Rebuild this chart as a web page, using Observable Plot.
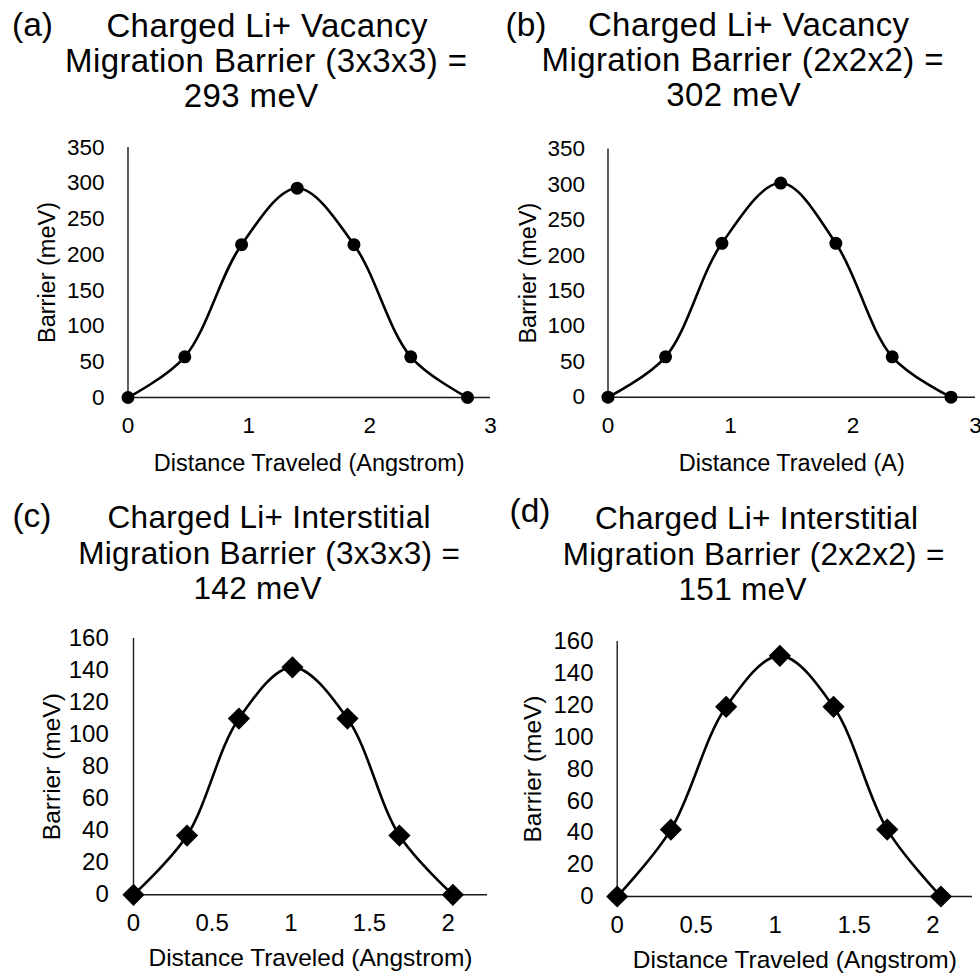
<!DOCTYPE html>
<html><head><meta charset="utf-8">
<script src="https://cdn.jsdelivr.net/npm/d3@7"></script>
<script src="https://cdn.jsdelivr.net/npm/@observablehq/plot@0.6"></script>
<style>
body{margin:0;background:#fff;}
#root{position:relative;width:980px;height:975px;overflow:hidden;font-family:"Liberation Sans",Arial,Helvetica,sans-serif;color:#000;}
.t{position:absolute;white-space:nowrap;line-height:1;}
.p{position:absolute;}
</style></head><body><div id="root"></div>
<script>
// ---- data ----
const distA = [0, 0.47, 0.94, 1.40, 1.87, 2.34, 2.81];
const barrierA = [0, 57, 214, 293, 214, 57, 0];
const distB = [0, 0.47, 0.93, 1.41, 1.86, 2.32, 2.80];
const barrierB = [0, 57, 217, 302, 217, 57, 0];
const distC = [0, 0.34, 0.67, 1.01, 1.36, 1.69, 2.03];
const barrierC = [0, 37, 110, 142, 110, 37, 0];
const distD = [0, 0.34, 0.69, 1.03, 1.37, 1.71, 2.05];
const barrierD = [0, 42, 119, 151, 119, 42, 0];

const xTicksVac = [0, 1, 2, 3];
const yTicksVac = [0, 50, 100, 150, 200, 250, 300, 350];
const xTicksInt = [0, 0.5, 1, 1.5, 2];
const yTicksInt = [0, 20, 40, 60, 80, 100, 120, 140, 160];

const titlesA = ["Charged Li+ Vacancy", "Migration Barrier (3x3x3) =", "293 meV"];
const titlesB = ["Charged Li+ Vacancy", "Migration Barrier (2x2x2) =", "302 meV"];
const titlesC = ["Charged Li+ Interstitial", "Migration Barrier (3x3x3) =", "142 meV"];
const titlesD = ["Charged Li+ Interstitial", "Migration Barrier (2x2x2) =", "151 meV"];
const panelLetters = ["(a)", "(b)", "(c)", "(d)"];
const xLabels = ["Distance Traveled (Angstrom)", "Distance Traveled (A)", "Distance Traveled (Angstrom)", "Distance Traveled (Angstrom)"];
const yLabel = "Barrier (meV)";

const root = document.getElementById("root");
const FONT = '"Liberation Sans", Arial, Helvetica, sans-serif';

function addText(str, cx, baseline, fs, ls) {
  const d = document.createElement("div");
  d.className = "t";
  d.textContent = str;
  d.style.fontSize = fs + "px";
  d.style.letterSpacing = (ls || 0) + "px";
  d.style.top = (baseline - 0.8465 * fs) + "px";
  d.style.left = "0px";
  root.appendChild(d);
  const w = d.getBoundingClientRect().width - (ls || 0);
  d.style.left = (cx - w / 2) + "px";
}

function panel(o) {
  const data = o.xs.map((x, i) => ({x, y: o.ys[i]}));
  const chart = Plot.plot({
    width: o.width, height: o.height,
    marginLeft: o.ml, marginRight: o.mr, marginTop: o.mt, marginBottom: o.mb,
    x: {domain: o.xDomain},
    y: {domain: o.yDomain},
    style: {fontFamily: FONT, overflow: "visible", background: "transparent", color: "#000"},
    marks: [
      Plot.ruleX([0], {stroke: "#1a1a1a", strokeWidth: 1.4}),
      Plot.ruleY([0], {stroke: "#1a1a1a", strokeWidth: 1.4}),
      Plot.axisX({ticks: o.xTicks, tickSize: 0, tickPadding: o.xpad, fontSize: o.tickFs, label: null, tickFormat: d => String(d), fill: "#000"}),
      Plot.axisY({ticks: o.yTicks, tickSize: 0, tickPadding: o.ypad, fontSize: o.tickFs, label: null, tickFormat: d => String(d), fill: "#000"}),
      Plot.line(data, {x: "x", y: "y", curve: "catmull-rom", stroke: "#000", strokeWidth: 2.6}),
      Plot.dot(data, {x: "x", y: "y", r: o.r, fill: "#000", symbol: o.symbol}),
      Plot.text([o.xlab], {text: d => d, frameAnchor: "bottom", textAnchor: "middle", lineAnchor: "middle", dy: o.xlabDy, fontSize: o.labFs, fill: "#000"}),
      Plot.text([yLabel], {text: d => d, frameAnchor: "left", textAnchor: "middle", lineAnchor: "middle", dx: o.ylabDx, rotate: -90, fontSize: o.labFs, fill: "#000"})
    ]
  });
  chart.classList.add("p");
  chart.style.left = o.left + "px";
  chart.style.top = o.top + "px";
  root.appendChild(chart);
}

panel({left: 0, top: 130, width: 490, height: 340, ml: 127.5, mr: 0, mt: 17, mb: 73,
  xDomain: [0, 3], yDomain: [0, 350], xTicks: xTicksVac, yTicks: yTicksVac,
  xs: distA, ys: barrierA, symbol: "circle", r: 6.5, tickFs: 22.5, labFs: 23.5,
  xpad: 20, ypad: 23.5, xlab: xLabels[0], xlabDy: 66, ylabDx: -80.5});
panel({left: 490, top: 130, width: 490, height: 340, ml: 117.5, mr: 5, mt: 18.5, mb: 73.3,
  xDomain: [0, 3], yDomain: [0, 350], xTicks: xTicksVac, yTicks: yTicksVac,
  xs: distB, ys: barrierB, symbol: "circle", r: 6.5, tickFs: 22.5, labFs: 23.5,
  xpad: 20, ypad: 23, xlab: xLabels[1], xlabDy: 66.5, ylabDx: -79.5});
panel({left: 0, top: 620, width: 490, height: 355, ml: 133, mr: 3, mt: 18, mb: 80.7,
  xDomain: [0, 2.25], yDomain: [0, 160], xTicks: xTicksInt, yTicks: yTicksInt,
  xs: distC, ys: barrierC, symbol: "diamond2", r: 10, tickFs: 24, labFs: 24.5,
  xpad: 19, ypad: 24.7, xlab: xLabels[2], xlabDy: 63.7, ylabDx: -81.3});
panel({left: 490, top: 620, width: 490, height: 355, ml: 126.7, mr: 8, mt: 21, mb: 79,
  xDomain: [0, 2.25], yDomain: [0, 160], xTicks: xTicksInt, yTicks: yTicksInt,
  xs: distD, ys: barrierD, symbol: "diamond2", r: 10, tickFs: 24, labFs: 24.5,
  xpad: 19, ypad: 23.7, xlab: xLabels[3], xlabDy: 64, ylabDx: -83.7});

// titles
const TF1 = 33, TF2 = 31.5, LS1 = 0.4, LS2 = 0.3;
addText(titlesA[0], 267, 36.7, TF1, LS1);
addText(titlesA[1], 266, 71.7, TF1, LS1);
addText(titlesA[2], 251, 106.7, TF1, LS1);
addText(titlesB[0], 748.5, 35.5, TF1, LS1);
addText(titlesB[1], 742.5, 71, TF1, LS1);
addText(titlesB[2], 733.5, 106, TF1, LS1);
addText(titlesC[0], 269, 529, TF2, LS2);
addText(titlesC[1], 269, 565, TF2, LS2);
addText(titlesC[2], 257.5, 600, TF2, LS2);
addText(titlesD[0], 756.5, 530, TF2, LS2);
addText(titlesD[1], 753.5, 566, TF2, LS2);
addText(titlesD[2], 742.5, 601, TF2, LS2);
addText(panelLetters[0], 32.5, 36.7, 33.5, 0);
addText(panelLetters[1], 526, 36, 33.5, 0);
addText(panelLetters[2], 32, 527, 33.5, 0);
addText(panelLetters[3], 530, 522, 33.5, 0);
</script></body></html>
